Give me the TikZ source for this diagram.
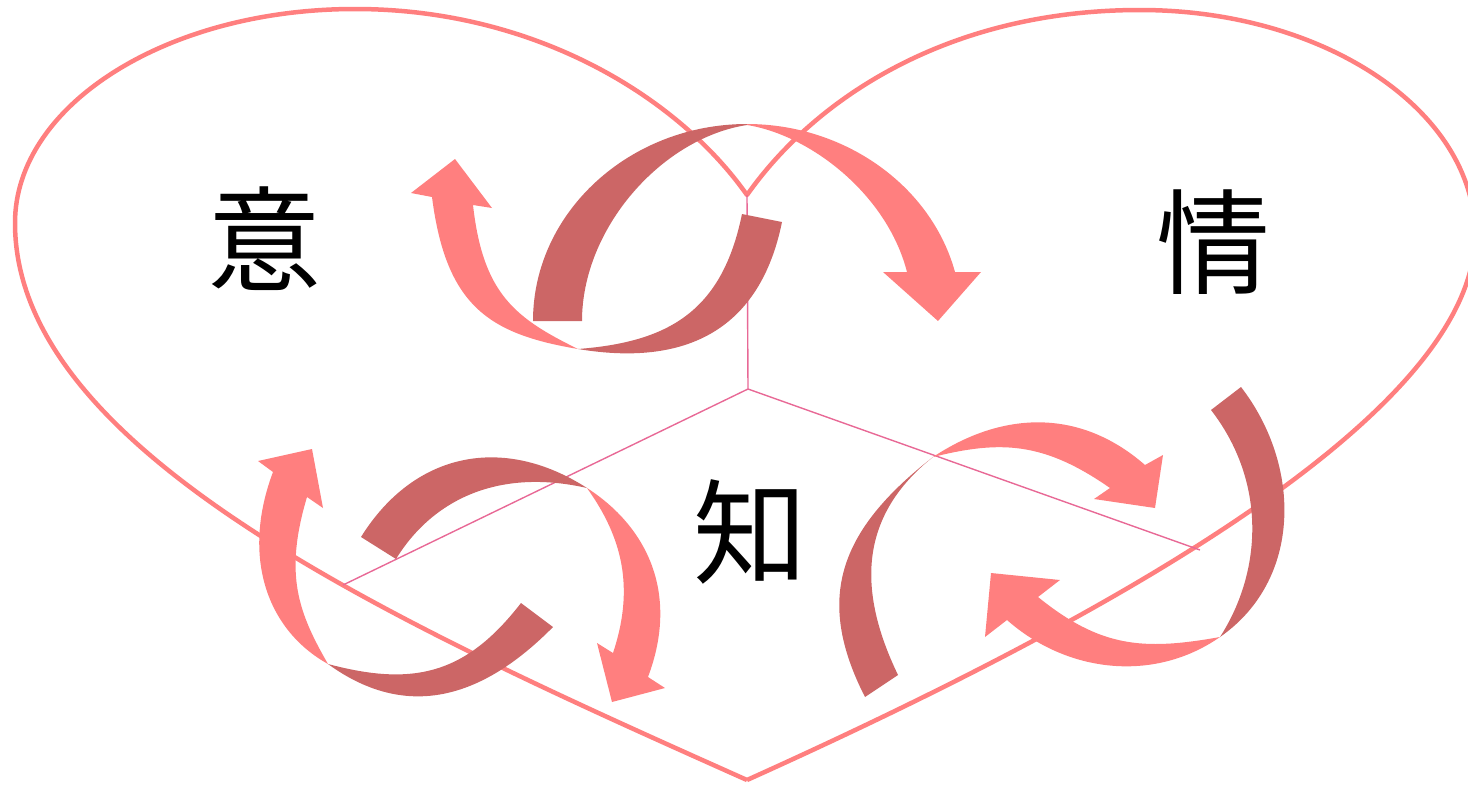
\documentclass[tikz,border=0pt]{standalone}
\usepackage{fontspec}
\newfontfamily\cjk{Noto Sans CJK JP}
\definecolor{heartpink}{RGB}{255,127,127}
\definecolor{ribdark}{RGB}{204,102,102}
\definecolor{thinpink}{RGB}{232,105,150}
\tikzset{
  heartline/.style={draw=heartpink,line width=4.5pt,line join=round},
  thinline/.style={draw=thinpink,line width=1.4pt},
  darkrib/.style={fill=ribdark},
  pinkrib/.style={fill=heartpink},
  kanji/.style={inner sep=0pt,font=\cjk\fontsize{114}{114}\selectfont}
}
\begin{document}
\begin{tikzpicture}[x=1pt,y=-1pt]
\useasboundingbox (0,0) rectangle (1468,785);
\clip (0,0) rectangle (1468,785);
% heart outline
\coordinate (htop) at (747,195);
\coordinate (hbot) at (747,780);
\coordinate (hleft) at (15,223);
\coordinate (hltop) at (355,9);
\coordinate (hrtop) at (1140,10);
\coordinate (hright) at (1475,235);
\draw[heartline] (hbot) .. controls (400,625) and (15,453) .. (hleft)
  .. controls (15,105) and (167,9) .. (hltop)
  .. controls (535,9) and (678,97) .. (htop)
  .. controls (816,97) and (950,10) .. (hrtop)
  .. controls (1325,10) and (1475,111) .. (hright)
  .. controls (1475,420) and (1080,630) .. (hbot);
% thin lines
\coordinate (mid) at (748,389);
\coordinate (lend) at (343,585);
\coordinate (rend) at (1200,550);
\draw[thinline] (htop) -- (mid) -- (lend);
\draw[thinline] (mid) -- (rend);
% ---- top pair
\fill[darkrib] (533,321) .. controls (533,212) and (630,124) .. (747,124)
  -- (747,125) .. controls (662,138) and (582,228) .. (582,321) -- cycle;
\fill[pinkrib] (747,124) .. controls (844,124) and (931,185) .. (955,272)
  -- (981,272) -- (938,321) -- (883,272) -- (907,272)
  .. controls (887,194) and (810,135) .. (747,125) -- cycle;
\fill[darkrib] (782,222) .. controls (760,330) and (686,367) .. (578,349)
  .. controls (668,342) and (722,312) .. (742,214) -- cycle;
\fill[pinkrib] (578,349) .. controls (489,334) and (446,306) .. (432,197)
  -- (411,193) -- (455,159) -- (492,208) -- (473,205)
  .. controls (483,294) and (515,318) .. (578,349) -- cycle;
% ---- bottom-left pair
\fill[pinkrib] (328,664) .. controls (267,630) and (241,557) .. (273,472)
  -- (258,461) -- (312,449) -- (323,508) -- (307,497)
  .. controls (284,574) and (298,612) .. (328,664) -- cycle;
\fill[darkrib] (328,664) .. controls (401,717) and (476,705) .. (553,627)
  -- (521,603) .. controls (466,674) and (414,687) .. (328,664) -- cycle;
\fill[darkrib] (361,537) .. controls (414,452) and (503,434) .. (587,488)
  .. controls (499,468) and (433,499) .. (396,559) -- cycle;
\fill[pinkrib] (587,488) .. controls (646,526) and (680,592) .. (648,677)
  -- (665,688) -- (612,702) -- (597,643) -- (613,653)
  .. controls (635,587) and (622,537) .. (587,488) -- cycle;
% ---- bottom-right pair
\fill[pinkrib] (933,457) .. controls (1004,410) and (1081,409) .. (1145,465)
  -- (1163,455) -- (1155,508) -- (1094,499) -- (1110,488)
  .. controls (1044,442) and (1001,440) .. (933,457) -- cycle;
\fill[darkrib] (933,457) .. controls (838,531) and (815,599) .. (865,697)
  -- (898,675) .. controls (857,590) and (859,516) .. (933,457) -- cycle;
\fill[darkrib] (1241,387) .. controls (1302,466) and (1302,580) .. (1220,637)
  .. controls (1263,570) and (1266,481) .. (1211,410) -- cycle;
\fill[pinkrib] (1220,637) .. controls (1154,683) and (1067,673) .. (1007,620)
  -- (985,637) -- (991,573) -- (1060,580) -- (1038,597)
  .. controls (1100,647) and (1142,651) .. (1220,637) -- cycle;
% ---- labels
\node[kanji] (yi) at (264,239) {意};
\node[kanji] (qing) at (1213,242) {情};
\node[kanji] (zhi) at (750,532) {知};
\end{tikzpicture}
\end{document}
